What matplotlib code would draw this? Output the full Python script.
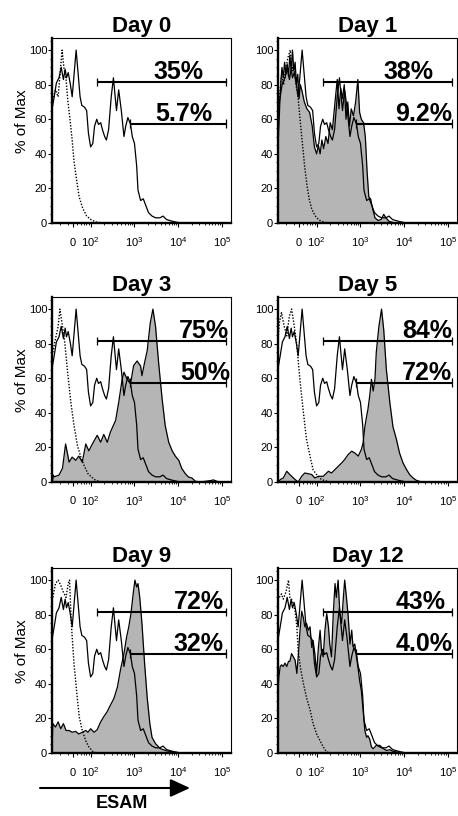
import numpy as np
import matplotlib
matplotlib.use("Agg")
import matplotlib.pyplot as plt
from matplotlib.patches import FancyArrowPatch

plt.rcParams['font.family'] = 'Liberation Sans'
plt.rcParams['mathtext.fontset'] = 'custom'
plt.rcParams['mathtext.rm'] = 'Liberation Sans'

# x values are channel positions on the biexponential display (in decades: 2 = 10^2)
days = ["Day 0", "Day 1", "Day 3", "Day 5", "Day 9", "Day 12"]
pct_total = ["35%", "38%", "75%", "84%", "72%", "43%"]
pct_high = ["5.7%", "9.2%", "50%", "72%", "32%", "4.0%"]
gate_total = (2.15, 5.09)
gate_high = (2.89, 5.09)
gate_levels = (81.5, 57.5)

tick_pos = [1.59, 2, 3, 4, 5]
tick_labels = ["$0$", "$10^2$", "$10^3$", "$10^4$", "$10^5$"]

# Day 0 sample, overlaid as open line in every panel
ref_x = [1.13, 1.17, 1.22, 1.28, 1.33, 1.38, 1.42, 1.45, 1.49, 1.54, 1.58, 1.62, 1.67, 1.71,
         1.76, 1.80, 1.86, 1.91, 1.95, 2.00, 2.05, 2.09, 2.14, 2.18, 2.23, 2.27, 2.32, 2.36,
         2.41, 2.47, 2.52, 2.56, 2.59, 2.64, 2.70, 2.76, 2.80, 2.85, 2.91, 2.95, 3.00, 3.05,
         3.08, 3.14, 3.20, 3.26, 3.32, 3.40, 3.48, 3.58, 3.65, 3.73, 3.82, 3.93, 4.05, 5.20]
ref_y = [67, 73, 81, 84, 90, 83, 89, 84, 87, 80, 73, 85, 100, 88, 73, 68, 67, 65, 52, 44,
         46, 56, 60, 57, 58, 54, 50, 48, 54, 73, 84, 73, 65, 77, 65, 50, 56, 61, 57, 50,
         46, 33, 19, 13, 14, 10, 6, 4, 3, 3, 4, 2, 1.3, 0.6, 0, 0]

# isotype controls (dotted)
iso_d0_x = [1.13, 1.20, 1.26, 1.30, 1.35, 1.39, 1.44, 1.48, 1.53, 1.58, 1.62, 1.68, 1.74,
            1.82, 1.91, 2.02, 2.15, 2.30, 5.20]
iso_d0_y = [71, 77, 73, 85, 100, 90, 83, 71, 60, 48, 36, 25, 15, 8.5, 4, 1.7, 0.4, 0, 0]
iso_d1_x = [1.13, 1.16, 1.20, 1.25, 1.30, 1.35, 1.40, 1.44, 1.48, 1.53, 1.58, 1.63, 1.68,
            1.73, 1.78, 1.83, 1.89, 1.95, 2.00, 2.10, 2.25, 5.20]
iso_d1_y = [55, 75, 85, 80, 90, 96, 100, 88, 92, 80, 72, 58, 45, 32, 22, 14, 8, 5, 3, 1, 0, 0]
iso_d3_x = [1.14, 1.20, 1.26, 1.30, 1.36, 1.41, 1.47, 1.55, 1.62, 1.70, 1.77, 1.85, 1.94,
            2.08, 2.23, 5.20]
iso_d3_y = [75, 83, 90, 100, 90, 81, 65, 46, 33, 21, 15, 9.6, 4.8, 1.5, 0, 0]
iso_d5_x = [1.13, 1.15, 1.20, 1.26, 1.32, 1.38, 1.43, 1.48, 1.55, 1.62, 1.70, 1.77, 1.85,
            1.92, 2.00, 2.11, 2.30, 5.20]
iso_d5_y = [85, 92, 98, 90, 84.5, 96, 100, 92, 79, 59, 40, 24.6, 15, 7, 4.3, 1.4, 0, 0]
iso_d9_x = [1.14, 1.20, 1.26, 1.32, 1.38, 1.44, 1.49, 1.52, 1.56, 1.62, 1.68, 1.74, 1.81,
            1.89, 1.96, 2.06, 2.15, 5.20]
iso_d9_y = [90, 98, 100, 97, 93, 90, 98, 100, 75, 52, 36, 21, 13, 7, 3.5, 0.6, 0, 0]
iso_d12_x = [1.15, 1.20, 1.24, 1.30, 1.36, 1.39, 1.45, 1.51, 1.55, 1.58, 1.64, 1.70, 1.77,
             1.85, 1.92, 2.00, 2.08, 2.15, 2.23, 2.30, 5.20]
iso_d12_y = [90, 92, 89, 93, 100, 90, 88, 82, 73, 59, 48, 40, 32, 25, 17, 11, 7, 3.5, 0.6, 0, 0]

# ESAM stain of each day (grey filled)
esam_d1_x = [1.13, 1.15, 1.18, 1.21, 1.24, 1.27, 1.30, 1.33, 1.36, 1.39, 1.42, 1.45, 1.48,
             1.51, 1.54, 1.57, 1.60, 1.63, 1.67, 1.72, 1.78, 1.84, 1.90, 1.95, 2.00, 2.04,
             2.08, 2.12, 2.16, 2.21, 2.26, 2.31, 2.36, 2.42, 2.47, 2.51, 2.55, 2.59, 2.63,
             2.67, 2.71, 2.75, 2.79, 2.84, 2.89, 2.94, 2.98, 3.02, 3.07, 3.11, 3.15, 3.19,
             3.23, 3.28, 3.33, 3.40, 3.47, 3.53, 3.58, 3.65, 3.75, 3.85, 5.20]
esam_d1_y = [50, 62, 80, 90, 84, 93, 86, 92, 85, 97, 88, 100, 88, 93, 80, 86, 72, 80, 76,
             70, 66, 64, 56, 44, 40, 45, 40, 48, 43, 50, 46, 58, 54, 70, 83, 66, 78, 72,
             80, 60, 70, 56, 66, 62, 70, 83, 64, 60, 58, 50, 30, 15, 14, 8, 3, 1.5, 2, 5,
             3, 1, 0.3, 0, 0]
esam_d3_x = [1.13, 1.15, 1.17, 1.28, 1.36, 1.43, 1.51, 1.58, 1.66, 1.73, 1.81, 1.89, 1.96,
             2.04, 2.15, 2.23, 2.30, 2.38, 2.45, 2.57, 2.64, 2.72, 2.76, 2.83, 2.91, 2.98,
             3.06, 3.14, 3.17, 3.23, 3.29, 3.36, 3.42, 3.48, 3.55, 3.63, 3.70, 3.78, 3.86,
             3.93, 4.01, 4.08, 4.16, 4.23, 4.31, 4.39, 4.50, 4.73, 4.80, 4.88, 4.95, 5.20]
esam_d3_y = [0, 4, 3, 4, 8, 22, 11.5, 14.4, 12.5, 15, 11.5, 22, 18, 22, 27, 23, 27.5, 23,
             28.8, 35.6, 46, 59.6, 63.5, 59.6, 56.7, 67.3, 70, 67, 61.5, 69, 76, 92, 100,
             90, 69, 48, 32.7, 23, 18, 15, 12.5, 7.7, 4.8, 2.9, 2.3, 0.4, 0, 0.8, 1.2,
             0.4, 0, 0]
esam_d5_x = [1.13, 1.17, 1.24, 1.32, 1.39, 1.51, 1.58, 1.66, 1.73, 1.81, 1.89, 1.96, 2.04,
             2.15, 2.27, 2.34, 2.45, 2.57, 2.64, 2.72, 2.80, 2.87, 2.95, 3.02, 3.06, 3.10,
             3.14, 3.17, 3.21, 3.25, 3.29, 3.33, 3.36, 3.42, 3.48, 3.53, 3.59, 3.67, 3.74,
             3.82, 3.89, 3.97, 4.05, 4.12, 4.20, 4.27, 4.39, 5.20]
esam_d5_y = [0, 1.4, 2.3, 6.2, 4.3, 1.4, 0, 3.3, 5.2, 4.8, 4.3, 2.3, 3.3, 3.3, 6.2, 5.2, 8,
             11, 13, 15.9, 17.8, 16.8, 15, 18.8, 22.6, 32, 38, 42, 49.7, 59.4, 52.6, 59.4,
             75, 90, 100, 88, 65, 45.8, 32, 24.6, 16.8, 11, 7.2, 4.3, 2.3, 1, 0, 0]
esam_d9_x = [1.13, 1.14, 1.20, 1.26, 1.32, 1.38, 1.44, 1.51, 1.58, 1.66, 1.73, 1.81, 1.89,
             1.94, 2.00, 2.08, 2.15, 2.23, 2.30, 2.38, 2.45, 2.53, 2.61, 2.68, 2.76, 2.82,
             2.87, 2.92, 2.97, 3.01, 3.05, 3.08, 3.12, 3.17, 3.23, 3.29, 3.35, 3.40, 3.48,
             3.59, 3.74, 3.89, 4.05, 5.20]
esam_d9_y = [10, 17, 15, 18, 14, 17, 13, 13, 12, 12.5, 11, 12, 13, 12, 14, 12, 13.5, 18,
             21, 24, 27.6, 31.5, 38, 48, 57.5, 67, 73, 80.7, 92, 100, 96, 98, 90, 75, 52,
             32, 17, 9, 5.4, 2.5, 1.2, 0.6, 0, 0]
esam_d12_x = [1.13, 1.14, 1.17, 1.20, 1.24, 1.28, 1.32, 1.36, 1.39, 1.43, 1.47, 1.51, 1.55,
              1.58, 1.62, 1.66, 1.70, 1.73, 1.77, 1.81, 1.85, 1.89, 1.92, 1.96, 2.00, 2.04,
              2.08, 2.11, 2.15, 2.19, 2.23, 2.27, 2.30, 2.34, 2.38, 2.42, 2.45, 2.49, 2.53,
              2.57, 2.61, 2.64, 2.68, 2.72, 2.76, 2.80, 2.83, 2.87, 2.91, 2.95, 2.98, 3.02,
              3.06, 3.10, 3.14, 3.17, 3.21, 3.25, 3.29, 3.36, 3.44, 3.52, 3.59, 3.67, 3.74,
              3.82, 3.97, 5.20]
esam_d12_y = [40, 44, 50, 51, 50, 52, 50, 53, 53, 57.5, 55.6, 53.7, 46, 55.6, 70, 82, 78,
              73, 75, 71, 73, 61, 65, 57.5, 46, 61, 71, 59.5, 55.6, 71, 80.7, 73, 63, 55.6,
              80.7, 98, 90, 100, 80.7, 75, 90, 100, 90, 79, 63, 71, 61.4, 63, 55.6, 48, 42,
              36, 24.7, 13, 9, 10, 8, 3.5, 2.5, 4.4, 4.4, 2.5, 1.5, 1.9, 1, 0.6, 0, 0]

iso_curves = [(iso_d0_x, iso_d0_y), (iso_d1_x, iso_d1_y), (iso_d3_x, iso_d3_y),
              (iso_d5_x, iso_d5_y), (iso_d9_x, iso_d9_y), (iso_d12_x, iso_d12_y)]
esam_curves = [None, (esam_d1_x, esam_d1_y), (esam_d3_x, esam_d3_y),
               (esam_d5_x, esam_d5_y), (esam_d9_x, esam_d9_y), (esam_d12_x, esam_d12_y)]

# layout -- right edges of the percentage labels, in display units
label_x_total = [4.58, 4.66, 5.15, 5.09, 5.05, 4.95]
label_x_high = [4.77, 5.09, 5.18, 5.09, 5.02, 5.09]

W, H = 458, 816
col_left = [52, 278]
row_top = [38, 297, 568]
pw, ph = 179, 185
FILL = '#b5b5b5'

minor_x = [k + np.log10(m) for k in range(1, 5) for m in range(2, 10)]
minor_x = [v for v in minor_x if 1.12 < v < 5.2 and abs(v - 1.59) > 0.04]

fig = plt.figure(figsize=(W / 100, H / 100), dpi=100)

for i, day in enumerate(days):
    col, row = i % 2, i // 2
    ax = fig.add_axes([col_left[col] / W, (H - row_top[row] - ph) / H, pw / W, ph / H])

    if esam_curves[i] is not None:
        gx, gy = esam_curves[i]
        ax.fill_between(gx, gy, color=FILL, lw=0, zorder=1)
        ax.plot(gx, gy, color='black', lw=0.9, zorder=2)
    ax.plot(ref_x, ref_y, color='black', lw=0.9, zorder=3)
    ix, iy = iso_curves[i]
    ax.plot(ix, iy, color='black', lw=1.0, ls=(0, (1, 1.2)), zorder=3)

    for (g0, g1), lev, txt, tx in zip((gate_total, gate_high), gate_levels,
                                      (pct_total[i], pct_high[i]),
                                      (label_x_total[i], label_x_high[i])):
        ax.hlines(lev, g0, g1, color='black', lw=1.5, zorder=4)
        ax.vlines([g0, g1], lev - 2.4, lev + 2.4, color='black', lw=0.9, zorder=4)
        ax.text(tx, lev + 1.7, txt, ha='right', va='baseline', fontsize=18,
                fontweight='bold', zorder=5)

    ax.set_xlim(1.12, 5.2)
    ax.set_ylim(0, 107)
    ax.set_title(day, fontsize=16, fontweight='bold', pad=4)

    for side in ('left', 'bottom'):
        ax.spines[side].set_linewidth(1.7)
    for side in ('top', 'right'):
        ax.spines[side].set_linewidth(0.8)

    ax.set_yticks([0, 20, 40, 60, 80, 100])
    ax.set_yticks(np.arange(0, 106, 5), minor=True)
    ax.set_xticks(tick_pos)
    ax.set_xticklabels(tick_labels)
    ax.set_xticks(minor_x, minor=True)
    ax.tick_params(axis='both', which='major', length=3, width=0.8, labelsize=8)
    ax.tick_params(axis='both', which='minor', length=1.5, width=0.6)
    ax.tick_params(axis='y', which='major', pad=0.5)
    ax.tick_params(axis='x', which='major', pad=6)

    if col == 0:
        ax.text((22.5 - col_left[0]) / pw, 0.551, "% of Max", transform=ax.transAxes,
                rotation=90, ha='center', va='center', fontsize=11)

arrow = FancyArrowPatch((40 / W, 28 / H), (190 / W, 28 / H), transform=fig.transFigure,
                        arrowstyle='-|>,head_length=1.2,head_width=0.55', mutation_scale=10,
                        lw=1.5, color='black', shrinkA=0, shrinkB=0)
fig.add_artist(arrow)
fig.text(122 / W, 12 / H, "ESAM", ha='center', va='center', fontsize=13, fontweight='bold')

fig.savefig('out.png', dpi=100)
